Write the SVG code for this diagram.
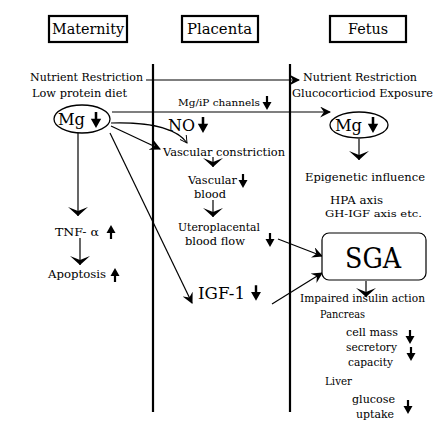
<svg xmlns="http://www.w3.org/2000/svg" xmlns:xlink="http://www.w3.org/1999/xlink" width="448" height="428" viewBox="0 0 448 428">
<style>
text{font-family:"DejaVu Serif","Liberation Serif",serif;fill:#000}
.hdr{fill:#fff;stroke:#000;stroke-width:2.2}
.t14{font-size:14px}
.t12{font-size:11.5px}
.t11{font-size:10.5px}
.t10{font-size:9.5px}
.big{font-size:17px}
.ln{stroke:#000;stroke-width:1.2;fill:none}
.wall{stroke:#000;stroke-width:2.2}
</style>
<defs>
<marker id="h" viewBox="0 0 10 10" refX="9" refY="5" markerWidth="11" markerHeight="11" markerUnits="userSpaceOnUse" orient="auto"><path d="M0,0 L10,5 L0,10 L3.5,5 Z"/></marker>
<marker id="w" viewBox="0 0 9 20" refX="9" refY="10" markerWidth="9" markerHeight="20" markerUnits="userSpaceOnUse" orient="auto"><path d="M0,0 L9,10 L0,20 L4,10 Z"/></marker>
<marker id="o" viewBox="0 0 10 10" refX="9" refY="5" markerWidth="8" markerHeight="8" markerUnits="userSpaceOnUse" orient="auto"><path d="M0,0 L9,5 L0,10" fill="none" stroke="#000" stroke-width="1.2"/></marker>
<path id="dn" d="M-1.1,-7 L1.1,-7 L1.1,-1 L4.5,-1 L0,7 L-4.5,-1 L-1.1,-1 Z"/>
</defs>

<g id="columns">
<line class="wall" x1="153" y1="64" x2="153" y2="412"/>
<line class="wall" x1="290" y1="64" x2="290" y2="412"/>
</g>

<g id="maternity-header"><rect class="hdr" x="49" y="16" width="78" height="26"/><text class="t14" x="52" y="34" textLength="72" lengthAdjust="spacingAndGlyphs">Maternity</text></g>
<g id="placenta-header"><rect class="hdr" x="182" y="16" width="76" height="26"/><text class="t14" x="187" y="34" textLength="65" lengthAdjust="spacingAndGlyphs">Placenta</text></g>
<g id="fetus-header"><rect class="hdr" x="330" y="16" width="76" height="26"/><text class="t14" x="348" y="34" textLength="40" lengthAdjust="spacingAndGlyphs">Fetus</text></g>

<g id="connectors">
<line class="ln" x1="146" y1="80" x2="299" y2="80" marker-end="url(#h)"/>
<line class="ln" x1="112" y1="112" x2="330" y2="112" marker-end="url(#h)"/>
<line class="ln" x1="111" y1="126" x2="160" y2="149" marker-end="url(#h)"/>
<path class="ln" d="M111,123 C145,122 176,127 187,143" marker-end="url(#o)"/>
<line class="ln" x1="110" y1="133" x2="192" y2="303" marker-end="url(#h)"/>
<line class="ln" x1="78" y1="133" x2="78" y2="216" marker-end="url(#w)"/>
<line class="ln" x1="80" y1="238" x2="80" y2="265" marker-end="url(#w)"/>
<line class="ln" x1="359" y1="139" x2="359" y2="160" marker-end="url(#w)"/>
<line class="ln" x1="213" y1="157" x2="213" y2="167" marker-end="url(#w)"/>
<line class="ln" x1="213" y1="200" x2="213" y2="217" marker-end="url(#w)"/>
<line class="ln" x1="278" y1="239" x2="322" y2="256" marker-end="url(#h)"/>
<line class="ln" x1="272" y1="304" x2="322" y2="273" marker-end="url(#h)"/>
<line class="ln" x1="366" y1="281" x2="366" y2="297" marker-end="url(#w)"/>
</g>

<g id="maternal-inputs">
<text class="t11" x="30" y="81" textLength="113" lengthAdjust="spacingAndGlyphs">Nutrient Restriction</text>
<text class="t11" x="32" y="97" textLength="95" lengthAdjust="spacingAndGlyphs">Low protein diet</text>
</g>
<g id="mg-maternal">
<ellipse cx="82" cy="119" rx="28" ry="14" fill="#fff" stroke="#000" stroke-width="1.3"/>
<text class="big" x="58" y="125" textLength="27" lengthAdjust="spacingAndGlyphs">Mg</text>
<use xlink:href="#dn" transform="translate(96,120) scale(1.15)"/>
</g>
<g id="tnf"><text class="t11" x="55" y="236" textLength="44" lengthAdjust="spacingAndGlyphs">TNF- α</text><use xlink:href="#dn" transform="translate(111,232) rotate(180)"/></g>
<g id="apoptosis"><text class="t11" x="48" y="278" textLength="58" lengthAdjust="spacingAndGlyphs">Apoptosis</text><use xlink:href="#dn" transform="translate(115,275) rotate(180)"/></g>

<g id="mgip"><text class="t10" x="178" y="106" textLength="82" lengthAdjust="spacingAndGlyphs">Mg/iP channels</text><use xlink:href="#dn" transform="translate(267,103)"/></g>
<g id="no"><text class="big" x="168" y="131" textLength="27" lengthAdjust="spacingAndGlyphs">NO</text><use xlink:href="#dn" transform="translate(203,125) scale(1.15)"/></g>
<g id="vasc-constriction"><text class="t11" x="163" y="156" textLength="122" lengthAdjust="spacingAndGlyphs">Vascular constriction</text></g>
<g id="vasc-blood"><text class="t11" x="188" y="184" textLength="49" lengthAdjust="spacingAndGlyphs">Vascular</text><text class="t11" x="194" y="198" textLength="32" lengthAdjust="spacingAndGlyphs">blood</text><use xlink:href="#dn" transform="translate(243,181)"/></g>
<g id="uteroplacental"><text class="t11" x="178" y="231" textLength="82" lengthAdjust="spacingAndGlyphs">Uteroplacental</text><text class="t11" x="185" y="245" textLength="60" lengthAdjust="spacingAndGlyphs">blood flow</text><use xlink:href="#dn" transform="translate(270,240)"/></g>
<g id="igf1"><text class="big" x="198" y="299" textLength="47" lengthAdjust="spacingAndGlyphs">IGF-1</text><use xlink:href="#dn" transform="translate(256,293) scale(1.1)"/></g>

<g id="fetal-inputs">
<text class="t11" x="303" y="81" textLength="114" lengthAdjust="spacingAndGlyphs">Nutrient Restriction</text>
<text class="t11" x="292" y="97" textLength="141" lengthAdjust="spacingAndGlyphs">Glucocorticiod Exposure</text>
</g>
<g id="mg-fetal">
<ellipse cx="359" cy="125" rx="29" ry="13" fill="#fff" stroke="#000" stroke-width="1.3"/>
<text class="big" x="335" y="131" textLength="27" lengthAdjust="spacingAndGlyphs">Mg</text>
<use xlink:href="#dn" transform="translate(373,125) scale(1.15)"/>
</g>
<g id="epigenetic">
<text class="t12" x="305" y="181" textLength="120" lengthAdjust="spacingAndGlyphs">Epigenetic influence</text>
<text class="t11" x="330" y="204" textLength="53" lengthAdjust="spacingAndGlyphs">HPA axis</text>
<text class="t10" x="325" y="217" textLength="97" lengthAdjust="spacingAndGlyphs">GH-IGF axis  etc.</text>
</g>
<g id="sga"><rect x="322" y="233" width="104" height="47" rx="7" fill="#fff" stroke="#000" stroke-width="1.2"/><text x="345" y="268" font-size="27" textLength="56" lengthAdjust="spacingAndGlyphs">SGA</text></g>
<g id="insulin">
<text class="t12" x="300" y="302" textLength="125" lengthAdjust="spacingAndGlyphs">Impaired insulin action</text>
<text class="t11" x="320" y="318" textLength="45" lengthAdjust="spacingAndGlyphs">Pancreas</text>
<text class="t11" x="346" y="336" textLength="52" lengthAdjust="spacingAndGlyphs">cell mass</text><use xlink:href="#dn" transform="translate(410,337)"/>
<text class="t11" x="346" y="351" textLength="51" lengthAdjust="spacingAndGlyphs">secretory</text><use xlink:href="#dn" transform="translate(411,354)"/>
<text class="t11" x="348" y="366" textLength="45" lengthAdjust="spacingAndGlyphs">capacity</text>
<text class="t11" x="325" y="385" textLength="27" lengthAdjust="spacingAndGlyphs">Liver</text>
<text class="t11" x="352" y="403" textLength="43" lengthAdjust="spacingAndGlyphs">glucose</text>
<text class="t11" x="356" y="418" textLength="38" lengthAdjust="spacingAndGlyphs">uptake</text><use xlink:href="#dn" transform="translate(408,407)"/>
</g>
</svg>
